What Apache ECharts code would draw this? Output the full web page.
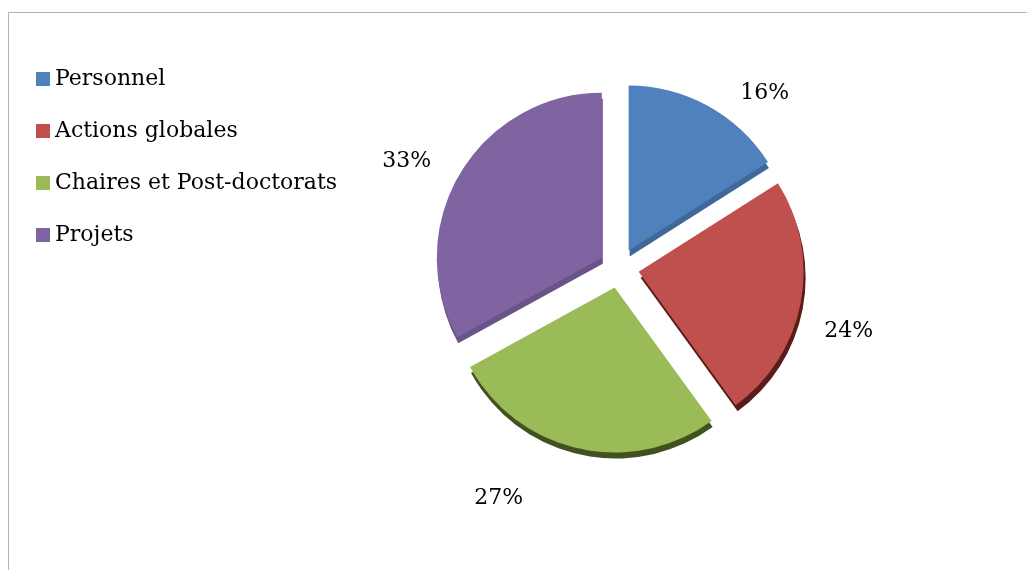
<!DOCTYPE html>
<html>
<head>
<meta charset="utf-8">
<script src="https://cdn.jsdelivr.net/npm/echarts@6/dist/echarts.min.js"></script>
<style>
  html, body { margin: 0; padding: 0; background: #fff; }
  #frame { position: absolute; left: 8px; top: 12px; width: 1100px; height: 700px; border: 1px solid #b3b3b3; }
  #chart { position: absolute; left: 0; top: 0; width: 1027px; height: 570px; }
</style>
</head>
<body>
<div id="frame"></div>
<div id="chart"></div>
<script>
  // budget split
  const categories = ['Personnel', 'Actions globales', 'Chaires et Post-doctorats', 'Projets']
  const shares = [16, 24, 27, 33]
  const colors = ['#4f81bd', '#c0504d', '#9bbb59', '#8064a2']
  const edgeColors = ['#3f6899', '#5a1c1a', '#42521f', '#6a5389']
  // small label nudges (excel "best fit" placement)
  const labelNudge = [[0, 9], [-21, 24], [-30, 25], [13, 0]]

  let myChart = echarts.init(document.getElementById('chart'))
  let option = {
    animation: false,
    legend: {
      orient: 'vertical',
      left: 31,
      top: 63,
      icon: 'rect',
      itemWidth: 14,
      itemHeight: 14,
      itemGap: 30,
      textStyle: {
        fontFamily: 'DejaVu Serif',
        fontSize: 22,
        lineHeight: 22,
        color: '#000'
      },
      data: categories
    },
    series: [
      {
        type: 'pie',
        center: [619, 268],
        radius: 165,
        startAngle: 90,
        selectedMode: 'multiple',
        selectedOffset: 20,
        label: {
          show: true,
          position: 'outside',
          formatter: '{d}%',
          fontFamily: 'DejaVu Serif',
          fontSize: 22,
          color: '#000'
        },
        labelLine: {
          show: false,
          length: 25,
          length2: 15
        },
        labelLayout: function (params) {
          let n = labelNudge[params.dataIndex]
          return { dx: n[0], dy: n[1] }
        },
        emphasis: { disabled: true },
        data: categories.map(function (name, i) {
          let style = {
            color: colors[i],
            shadowColor: edgeColors[i],
            shadowBlur: 0,
            shadowOffsetX: i === 1 ? 2 : 1,
            shadowOffsetY: 6
          }
          return {
            name: name,
            value: shares[i],
            selected: true,
            itemStyle: style,
            select: { itemStyle: style }
          }
        })
      }
    ]
  }
  myChart.setOption(option)
</script>
</body>
</html>
